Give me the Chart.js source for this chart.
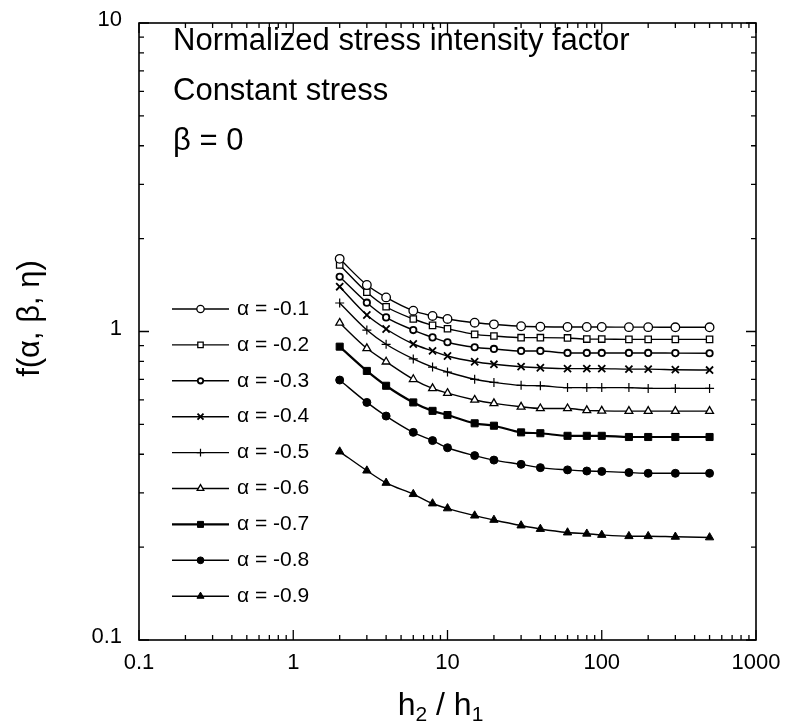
<!DOCTYPE html>
<html lang="en">
<head>
<meta charset="utf-8">
<title>Normalized stress intensity factor</title>
<script src="https://cdn.jsdelivr.net/npm/chart.js@4.4.1/dist/chart.umd.min.js"></script>
<style>
  html, body { margin: 0; padding: 0; background: #fff; }
  #wrap { width: 785px; height: 727px; }
</style>
</head>
<body>
<div id="wrap"><canvas id="chart" width="785" height="727"></canvas></div>
<script>
// h2/h1 values where the curves were sampled
var ratio = [2, 3, 4, 6, 8, 10, 15, 20, 30, 40, 60, 80, 100, 150, 200, 300, 500];

// f(alpha, beta=0, eta) for each alpha
var a01 = [1.72, 1.415, 1.29, 1.168, 1.123, 1.098, 1.068, 1.055, 1.04, 1.036, 1.034, 1.034, 1.034, 1.033, 1.033, 1.032, 1.032];
var a02 = [1.643, 1.34, 1.203, 1.098, 1.047, 1.021, 0.979, 0.967, 0.955, 0.955, 0.953, 0.945, 0.945, 0.943, 0.943, 0.943, 0.943];
var a03 = [1.505, 1.24, 1.111, 1.011, 0.957, 0.923, 0.889, 0.878, 0.865, 0.865, 0.852, 0.852, 0.852, 0.852, 0.852, 0.851, 0.85];
var a04 = [1.397, 1.131, 1.019, 0.911, 0.865, 0.833, 0.798, 0.783, 0.769, 0.763, 0.758, 0.758, 0.758, 0.755, 0.755, 0.752, 0.75];
var a05 = [1.237, 1.011, 0.909, 0.815, 0.767, 0.739, 0.70, 0.684, 0.669, 0.667, 0.658, 0.658, 0.658, 0.658, 0.654, 0.654, 0.654];
var a06 = [1.066, 0.882, 0.798, 0.70, 0.654, 0.631, 0.60, 0.585, 0.57, 0.563, 0.563, 0.555, 0.553, 0.552, 0.552, 0.552, 0.552];
var a07 = [0.893, 0.745, 0.667, 0.589, 0.553, 0.536, 0.504, 0.495, 0.471, 0.468, 0.459, 0.459, 0.459, 0.455, 0.455, 0.455, 0.455];
var a08 = [0.696, 0.589, 0.532, 0.471, 0.443, 0.42, 0.396, 0.383, 0.371, 0.362, 0.356, 0.353, 0.352, 0.349, 0.347, 0.347, 0.347];
var a09 = [0.408, 0.354, 0.323, 0.297, 0.277, 0.267, 0.253, 0.245, 0.235, 0.229, 0.223, 0.221, 0.219, 0.217, 0.217, 0.216, 0.215];

var seriesNames = ['\u03b1 = -0.1', '\u03b1 = -0.2', '\u03b1 = -0.3', '\u03b1 = -0.4', '\u03b1 = -0.5',
                   '\u03b1 = -0.6', '\u03b1 = -0.7', '\u03b1 = -0.8', '\u03b1 = -0.9'];

var xTicks = [0.1, 1, 10, 100, 1000];
var xTickLabels = ['0.1', '1', '10', '100', '1000'];
var yTicks = [0.1, 1, 10];
var yTickLabels = ['0.1', '1', '10'];

var notes = ['Normalized stress intensity factor', 'Constant stress', '\u03b2 = 0'];

var FONT = '"Liberation Sans", Arial, Helvetica, sans-serif';

// marker look per series
var markers = [
  { pointStyle: 'circle',   pointRadius: 4.3, pointBackgroundColor: '#fff', pointBorderWidth: 1.3 },
  { pointStyle: 'rect',     pointRadius: 4.5, pointBackgroundColor: '#fff', pointBorderWidth: 1.3 },
  { pointStyle: 'circle',   pointRadius: 3.2, pointBackgroundColor: '#fff', pointBorderWidth: 1.8 },
  { pointStyle: 'crossRot', pointRadius: 5,   pointBackgroundColor: '#000', pointBorderWidth: 1.8 },
  { pointStyle: 'cross',    pointRadius: 4.5, pointBackgroundColor: '#000', pointBorderWidth: 1.2 },
  { pointStyle: 'triangle', pointRadius: 4.5, pointBackgroundColor: '#fff', pointBorderWidth: 1.3 },
  { pointStyle: 'rect',     pointRadius: 5,   pointBackgroundColor: '#000', pointBorderWidth: 1 },
  { pointStyle: 'circle',   pointRadius: 4,   pointBackgroundColor: '#000', pointBorderWidth: 1 },
  { pointStyle: 'triangle', pointRadius: 4.8, pointBackgroundColor: '#000', pointBorderWidth: 1 }
];

var allSeries = [a01, a02, a03, a04, a05, a06, a07, a08, a09];

var datasets = allSeries.map(function (vals, i) {
  var m = markers[i];
  return {
    label: seriesNames[i],
    data: vals.map(function (v, j) { return { x: ratio[j], y: v }; }),
    borderColor: '#000',
    borderWidth: i === 6 ? 2.2 : 1.4,
    pointBorderColor: '#000',
    pointStyle: m.pointStyle,
    pointRadius: m.pointRadius,
    pointBackgroundColor: m.pointBackgroundColor,
    pointBorderWidth: m.pointBorderWidth,
    cubicInterpolationMode: 'monotone',
    fill: false
  };
});

function decadeValues(min, max) {
  var out = [];
  for (var e = Math.round(Math.log10(min)); e < Math.round(Math.log10(max)); e++) {
    for (var k = 1; k <= 9; k++) out.push(k * Math.pow(10, e));
  }
  out.push(max);
  return out;
}

var framePlugin = {
  id: 'frame',
  afterDraw: function (chart) {
    var ctx = chart.ctx;
    var a = chart.chartArea;
    var xs = chart.scales.x, ys = chart.scales.y;
    ctx.save();
    ctx.strokeStyle = '#000';

    // minor + major tick marks, pointing inward on all four sides
    ctx.lineWidth = 1.3;
    decadeValues(0.1, 1000).forEach(function (v) {
      var px = xs.getPixelForValue(v);
      var major = Math.abs(Math.log10(v) - Math.round(Math.log10(v))) < 1e-9;
      var len = major ? 10 : 5;
      ctx.beginPath();
      ctx.moveTo(px, a.bottom); ctx.lineTo(px, a.bottom - len);
      ctx.moveTo(px, a.top); ctx.lineTo(px, a.top + len);
      ctx.stroke();
    });
    decadeValues(0.1, 10).forEach(function (v) {
      var py = ys.getPixelForValue(v);
      var major = Math.abs(Math.log10(v) - Math.round(Math.log10(v))) < 1e-9;
      var len = major ? 10 : 5;
      ctx.beginPath();
      ctx.moveTo(a.left, py); ctx.lineTo(a.left + len, py);
      ctx.moveTo(a.right, py); ctx.lineTo(a.right - len, py);
      ctx.stroke();
    });

    // frame
    ctx.lineWidth = 1.6;
    ctx.strokeRect(a.left, a.top, a.right - a.left, a.bottom - a.top);

    // tick labels
    ctx.fillStyle = '#000';
    ctx.font = '22px ' + FONT;
    ctx.textBaseline = 'middle';
    ctx.textAlign = 'center';
    xTicks.forEach(function (v, i) {
      ctx.fillText(xTickLabels[i], xs.getPixelForValue(v), a.bottom + 23);
    });
    ctx.textAlign = 'right';
    yTicks.forEach(function (v, i) {
      ctx.fillText(yTickLabels[i], a.left - 17, ys.getPixelForValue(v) - 3);
    });

    // notes in the upper-left corner
    ctx.textAlign = 'left';
    ctx.textBaseline = 'alphabetic';
    ctx.font = '31px ' + FONT;
    notes.forEach(function (t, i) {
      ctx.fillText(t, a.left + 34, a.top + 27 + i * 50);
    });

    // legend drawn inside the plot
    chart.data.datasets.forEach(function (ds, i) {
      var y = a.top + 286 + i * 35.9;
      var x0 = a.left + 33, x1 = a.left + 90;
      ctx.lineWidth = ds.borderWidth;
      ctx.strokeStyle = '#000';
      ctx.beginPath();
      ctx.moveTo(x0, y); ctx.lineTo(x1, y);
      ctx.stroke();
      ctx.fillStyle = ds.pointBackgroundColor;
      ctx.lineWidth = ds.pointBorderWidth;
      Chart.helpers.drawPoint(ctx, {
        pointStyle: ds.pointStyle,
        radius: ds.pointRadius * 0.85,
        rotation: 0,
        borderWidth: ds.pointBorderWidth
      }, (x0 + x1) / 2, y);
      ctx.fillStyle = '#000';
      ctx.font = '21px ' + FONT;
      ctx.textBaseline = 'middle';
      ctx.fillText(ds.label, x1 + 8, y);
    });

    // axis titles
    ctx.textBaseline = 'alphabetic';
    var cx = (a.left + a.right) / 2 - 7;
    var by = 715;
    ctx.font = '32px ' + FONT;
    var big = ctx.measureText('h').width;
    var mid = ctx.measureText(' / ').width;
    ctx.font = '21px ' + FONT;
    var sub = ctx.measureText('2').width;
    var total = big + sub + mid + big + sub;
    var x = cx - total / 2;
    ctx.font = '32px ' + FONT; ctx.fillText('h', x, by); x += big;
    ctx.font = '21px ' + FONT; ctx.fillText('2', x, by + 6); x += sub;
    ctx.font = '32px ' + FONT; ctx.fillText(' / ', x, by); x += mid;
    ctx.fillText('h', x, by); x += big;
    ctx.font = '21px ' + FONT; ctx.fillText('1', x, by + 6);

    ctx.translate(39, (a.top + a.bottom) / 2 - 13);
    ctx.rotate(-Math.PI / 2);
    ctx.font = '31px ' + FONT;
    ctx.textAlign = 'center';
    ctx.fillText('f(\u03b1, \u03b2, \u03b7)', 0, 0);
    ctx.restore();
  }
};

new Chart(document.getElementById('chart').getContext('2d'), {
  type: 'line',
  data: { datasets: datasets },
  options: {
    responsive: false,
    animation: false,
    layout: { padding: { left: 0, right: 29, top: 23, bottom: 0 } },
    plugins: { legend: { display: false }, tooltip: { enabled: false } },
    scales: {
      x: {
        type: 'logarithmic',
        min: 0.1, max: 1000,
        grid: { display: false },
        border: { display: false },
        ticks: { display: false },
        afterFit: function (s) { s.height = 87; }
      },
      y: {
        type: 'logarithmic',
        min: 0.1, max: 10,
        grid: { display: false },
        border: { display: false },
        ticks: { display: false },
        afterFit: function (s) { s.width = 139; }
      }
    }
  },
  plugins: [framePlugin]
});
</script>
</body>
</html>
